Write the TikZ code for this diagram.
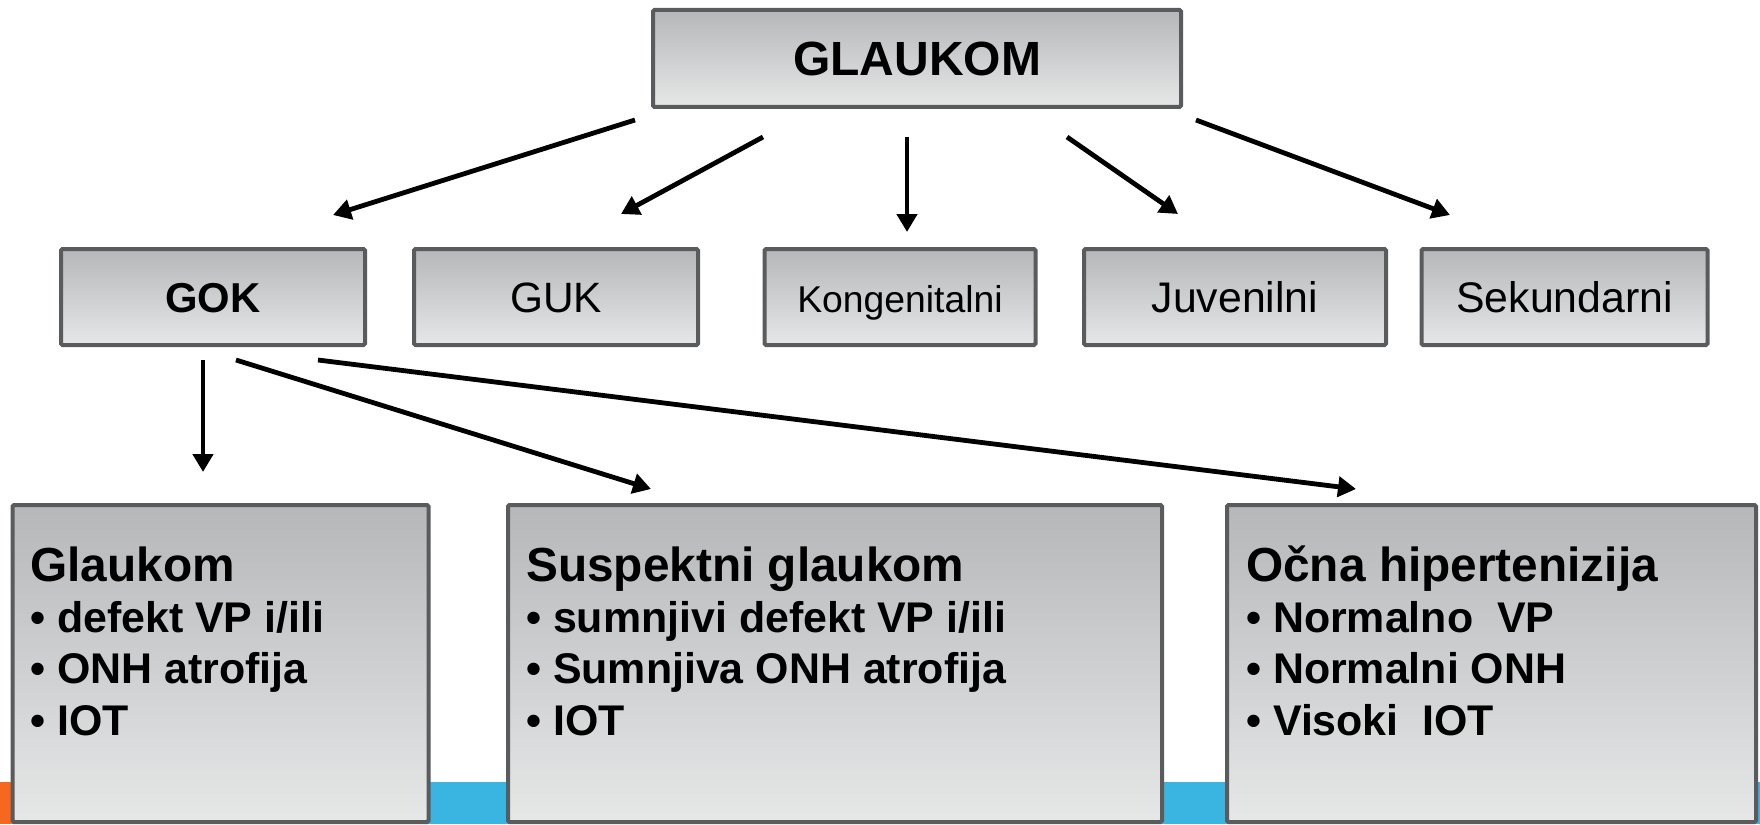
\documentclass[tikz,border=0pt]{standalone}
\usepackage{fontspec}
\setmainfont{Liberation Sans}
\usetikzlibrary{arrows.meta}
\definecolor{bordergray}{HTML}{5A5B5D}
\definecolor{shadetop}{HTML}{B6B7B9}
\definecolor{shadebot}{HTML}{E6E7E7}
\definecolor{stripblue}{HTML}{3AB4E1}
\definecolor{striporange}{HTML}{F7681F}
\tikzset{
  box/.style={draw=bordergray, line width=4pt, rounded corners=1.5pt, top color=shadetop, bottom color=shadebot, inner sep=0pt},
  lbl/.style={inner sep=0pt, anchor=base, text=black},
  txt/.style={inner sep=0pt, anchor=base west, text=black},
  arr/.style={line width=4.8pt, -{Triangle[length=18pt,width=20pt]}},
}
\newcommand{\fsz}[1]{\fontsize{#1}{#1}\selectfont}
\begin{document}
\begin{tikzpicture}[x=1pt,y=-1pt]
\useasboundingbox (0,0) rectangle (1760,824);
% bottom strip
\fill[striporange] (0,782) rectangle (12,824);
\fill[stripblue] (12,782) rectangle (1760,824);
% top
\node[box, minimum width=528pt, minimum height=97pt] (top) at (917,58.5) {};
\node[lbl, font=\fsz{48pt}\bfseries] (toptxt) at (917,76) {GLAUKOM};
% row 2
\node[box, minimum width=304pt, minimum height=96pt] (gok) at (213,297) {};
\node[lbl, font=\fsz{41.8pt}\bfseries] (goktxt) at (213,312) {GOK};
\node[box, minimum width=284pt, minimum height=96pt] (guk) at (556,297) {};
\node[lbl, font=\fsz{42.4pt}] (guktxt) at (556,312) {GUK};
\node[box, minimum width=271pt, minimum height=96pt] (kon) at (900,297) {};
\node[lbl, font=\fsz{37.3pt}] (kontxt) at (900,312) {Kongenitalni};
\node[box, minimum width=302pt, minimum height=96pt] (juv) at (1235,297) {};
\node[lbl, font=\fsz{42.8pt}] (juvtxt) at (1235,312) {Juvenilni};
\node[box, minimum width=286pt, minimum height=96pt] (sek) at (1564.5,297) {};
\node[lbl, font=\fsz{42.8pt}] (sektxt) at (1564.5,312) {Sekundarni};
% bottom boxes
\node[box, minimum width=416pt, minimum height=317pt] (b1) at (220.5,663.5) {};
\node[box, minimum width=654pt, minimum height=317pt] (b2) at (835,663.5) {};
\node[box, minimum width=529pt, minimum height=317pt] (b3) at (1491.5,663.5) {};
% box 1 text
\node[txt, font=\fsz{47.8pt}\bfseries] (b1t) at (30,581) {Glaukom};
\node[txt, font=\fsz{42.9pt}\bfseries] (b1a) at (30,632) {• defekt VP i/ili};
\node[txt, font=\fsz{42.9pt}\bfseries] (b1b) at (30,683) {• ONH atrofija};
\node[txt, font=\fsz{42.9pt}\bfseries] (b1c) at (30,735) {• IOT};
% box 2 text
\node[txt, font=\fsz{47.8pt}\bfseries] (b2t) at (526,581) {Suspektni glaukom};
\node[txt, font=\fsz{42.9pt}\bfseries] (b2a) at (526,632) {• sumnjivi defekt VP i/ili};
\node[txt, font=\fsz{42.9pt}\bfseries] (b2b) at (526,683) {• Sumnjiva ONH atrofija};
\node[txt, font=\fsz{42.9pt}\bfseries] (b2c) at (526,735) {• IOT};
% box 3 text
\node[txt, font=\fsz{47.8pt}\bfseries] (b3t) at (1246,581) {Očna hipertenizija};
\node[txt, font=\fsz{42.9pt}\bfseries] (b3a) at (1246,632) {• Normalno\ \ VP};
\node[txt, font=\fsz{42.9pt}\bfseries] (b3b) at (1246,683) {• Normalni ONH};
\node[txt, font=\fsz{42.9pt}\bfseries] (b3c) at (1246,735) {• Visoki\ \ IOT};
% arrow end points
\coordinate (s1) at (635,120);  \coordinate (e1) at (333,215);
\coordinate (s2) at (763,137);  \coordinate (e2) at (621,214);
\coordinate (s3) at (907,137);  \coordinate (e3) at (907,232);
\coordinate (s4) at (1067,137); \coordinate (e4) at (1178,214);
\coordinate (s5) at (1196,120); \coordinate (e5) at (1450,215);
\coordinate (s6) at (203,360);  \coordinate (e6) at (203,472);
\coordinate (s7) at (236,360);  \coordinate (e7) at (651,489);
\coordinate (s8) at (318,360);  \coordinate (e8) at (1356,489);
\foreach \i in {1,...,8} { \draw[arr] (s\i) -- (e\i); }
\end{tikzpicture}
\end{document}
